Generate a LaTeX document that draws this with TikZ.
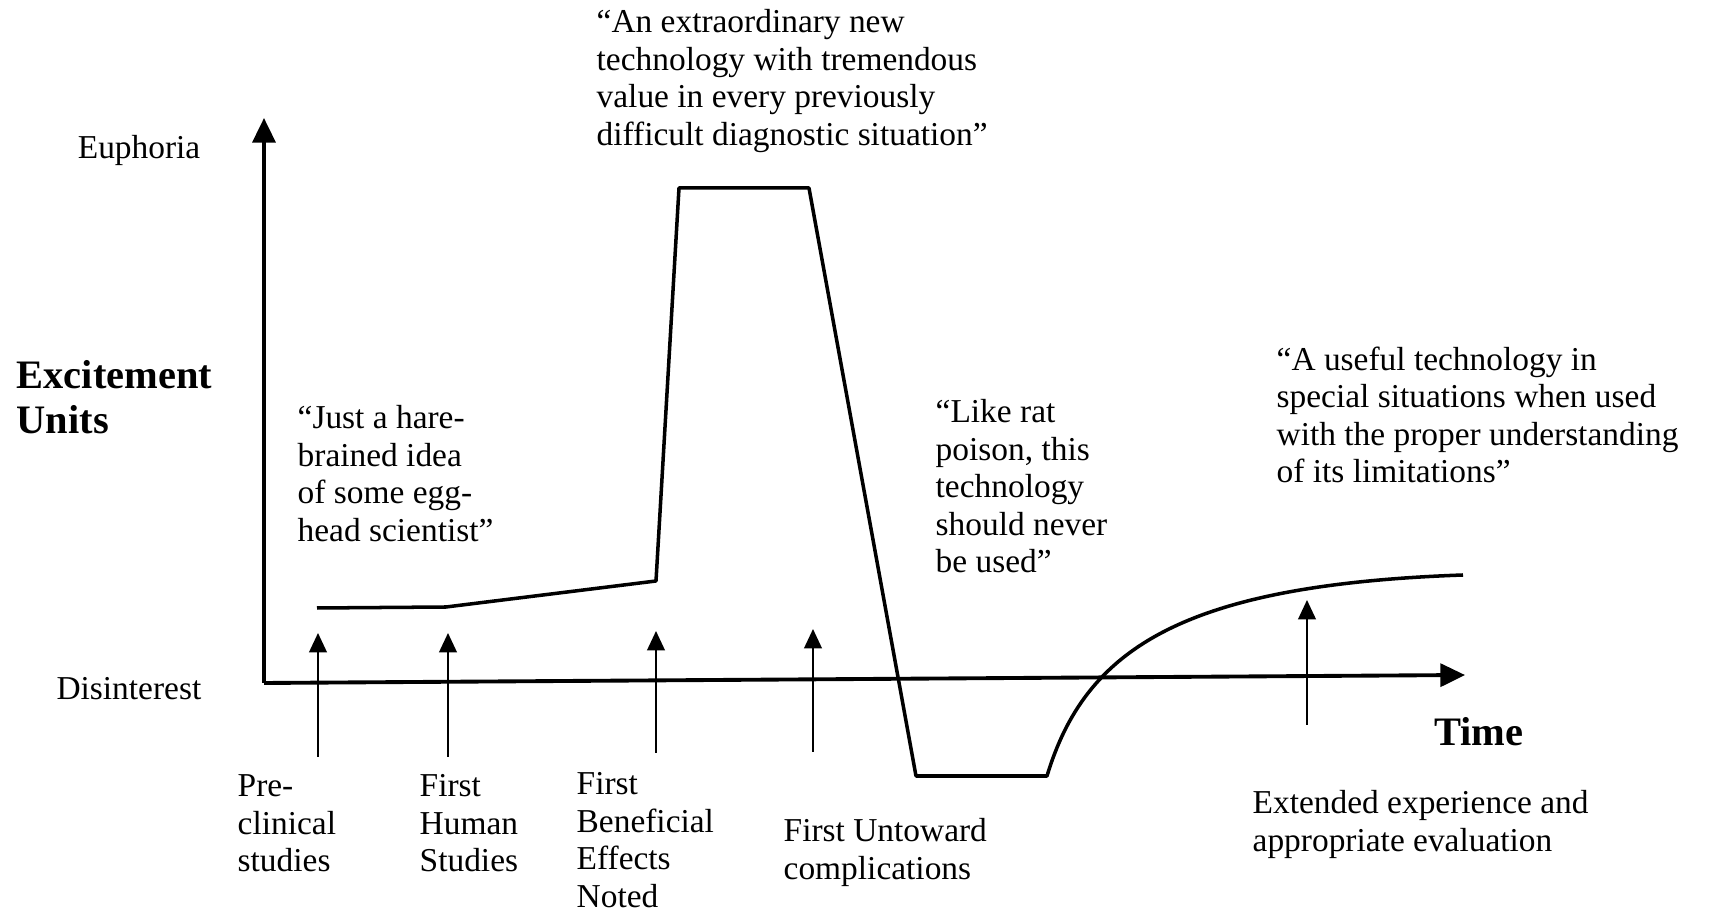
\documentclass[tikz,border=0pt]{standalone}
\usepackage{fontspec}
\setmainfont{Liberation Serif}
\usetikzlibrary{positioning, arrows.meta}

\begin{document}
\begin{tikzpicture}[x=0.01cm, y=-0.01cm, font=\fontsize{9.5}{10.67}\selectfont,
    axis/.style={line width=1.1pt, -{Triangle[length=7pt, width=6.5pt]}},
    event/.style={line width=0.6pt, -{Triangle[length=5.5pt, width=5pt]}},
    quote/.style={anchor=north west, align=left, inner sep=0pt},
    evlabel/.style={anchor=north west, align=left, inner sep=0pt},
    hype/.style={line width=1pt, line join=round}]
    \useasboundingbox (0,0) rectangle (1714,913);

    % Axes
    \coordinate (O) at (264,683);
    \coordinate (ytop) at (264,118);
    \coordinate (xend) at (1465,675);
    \draw[axis] (O) -- (ytop);
    \draw[axis] (O) -- (xend);

    \node[anchor=east, inner sep=0pt] (euph) at (201,150) {Euphoria};
    \node[anchor=east, inner sep=0pt] (disint) at (202,689) {Disinterest};
    \node[anchor=north west, align=left, inner sep=0pt, font=\fontsize{11.5}{12.6}\selectfont\bfseries] (units) at (16,360) {Excitement\\Units};
    \node[inner sep=0pt, font=\fontsize{11.5}{12.6}\selectfont\bfseries] (timelbl) at (1479,732) {Time};

    % Hype curve
    \draw[hype] (317,608) -- (446,607) -- (656,581) -- (679,188) -- (809,188) -- (916,776) -- (1047,776)
      .. controls (1085,650) and (1180,585) .. (1463,575);

    % Quotes
    \node[quote] (qhare) at (297,405) {“Just a hare-\\brained idea\\of some egg-\\head scientist”};
    \node[quote] (qextra) at (596,9) {“An extraordinary new\\technology with tremendous\\value in every previously\\difficult diagnostic situation”};
    \node[quote] (qrat) at (935,399) {“Like rat\\poison, this\\technology\\should never\\be used”};
    \node[quote] (quseful) at (1276,346) {“A useful technology in\\special situations when used\\with the proper understanding\\of its limitations”};

    % Events
    \node[evlabel] (evpre) at (237,774) {Pre-\\clinical\\studies};
    \node[evlabel] (evhuman) at (419,774) {First\\Human\\Studies};
    \node[evlabel] (evbenef) at (576,772) {First\\Beneficial\\Effects\\Noted};
    \node[evlabel] (evuntow) at (783,818) {First Untoward\\complications};
    \node[evlabel] (evext) at (1252,790) {Extended experience and\\appropriate evaluation};

    \foreach \name/\x/\ybot/\ytip in {pre/318/757/633, human/448/757/633, benef/656/753/631, untow/813/752/629, ext/1307/725/600} {
      \coordinate (\name-b) at (\x,\ybot);
      \coordinate (\name-t) at (\x,\ytip);
      \draw[event] (\name-b) -- (\name-t);
    }
  \end{tikzpicture}
\end{document}
